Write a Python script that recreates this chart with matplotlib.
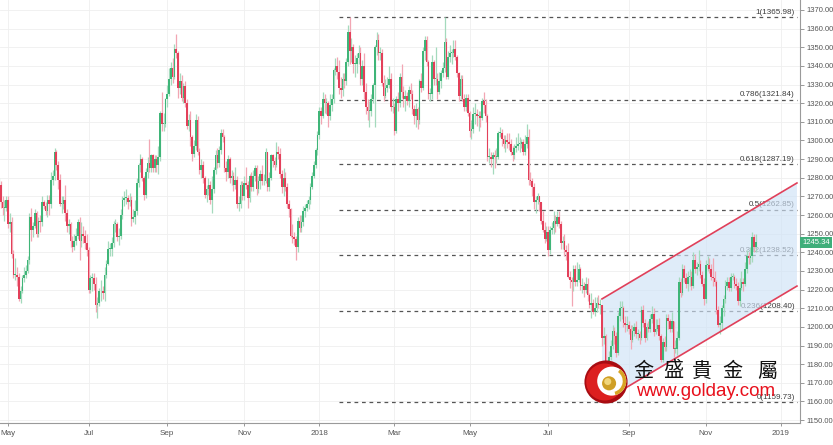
import numpy as np
import pandas as pd
import matplotlib
matplotlib.use("Agg")
from matplotlib import pyplot as plt
from matplotlib.patches import Circle, Wedge, Polygon
from matplotlib.transforms import blended_transform_factory

plt.rcParams['font.family'] = ['Liberation Sans', 'DejaVu Sans']

# XAU/USD daily candles, 2017-04-24 .. 2018-12-11, one line per month
first_open = 1270
close = [
    1276, 1267, 1264, 1264, 1268,
    1255, 1256, 1239, 1228, 1228, 1227, 1215, 1219, 1226, 1228, 1230, 1236, 1259, 1252, 1254, 1261, 1250, 1257, 1256, 1267, 1265, 1262, 1268,
    1266, 1279, 1281, 1294, 1287, 1279, 1266, 1266, 1268, 1261, 1254, 1255, 1246, 1243, 1246, 1249, 1256, 1246, 1250, 1249, 1245, 1241,
    1220, 1226, 1226, 1223, 1212, 1213, 1219, 1219, 1218, 1228, 1234, 1242, 1242, 1245, 1255, 1255, 1248, 1249, 1260, 1268, 1269,
    1269, 1267, 1268, 1258, 1259, 1262, 1277, 1287, 1290, 1280, 1271, 1283, 1288, 1285, 1292, 1285, 1290, 1287, 1291, 1315, 1309, 1309, 1322,
    1325, 1333, 1339, 1334, 1349, 1347, 1328, 1332, 1323, 1329, 1320, 1308, 1311, 1302, 1293, 1297, 1311, 1294, 1284, 1287, 1280,
    1271, 1274, 1276, 1268, 1274, 1284, 1292, 1288, 1295, 1304, 1302, 1285, 1283, 1290, 1280, 1281, 1276, 1279, 1266, 1266, 1276, 1270,
    1277, 1276, 1269, 1281, 1275, 1281, 1285, 1274, 1278, 1282, 1278, 1278, 1294, 1275, 1280, 1292, 1289, 1287, 1294, 1293, 1282, 1275,
    1280, 1275, 1266, 1263, 1249, 1248, 1247, 1243, 1257, 1253, 1256, 1262, 1264, 1266, 1268, 1275, 1281, 1287, 1295, 1303,
    1316, 1313, 1322, 1320, 1320, 1313, 1319, 1322, 1338, 1340, 1337, 1328, 1327, 1333, 1332, 1342, 1358, 1348, 1350, 1341, 1341, 1344,
    1347, 1333, 1340, 1326, 1318, 1316, 1316, 1322, 1330, 1350, 1354, 1347, 1347, 1331, 1324, 1328, 1330, 1333, 1318, 1318,
    1305, 1322, 1320, 1334, 1326, 1322, 1324, 1321, 1327, 1325, 1317, 1313, 1317, 1311, 1332, 1328, 1348, 1354, 1342, 1325, 1325,
    1342, 1333, 1333, 1326, 1332, 1336, 1339, 1353, 1334, 1345, 1347, 1347, 1349, 1345, 1336, 1324, 1333, 1322, 1318, 1323, 1315,
    1305, 1306, 1314, 1314, 1313, 1313, 1312, 1321, 1319, 1313, 1291, 1291, 1290, 1292, 1291, 1291, 1304, 1304, 1301, 1298, 1300, 1299, 1298,
    1294, 1292, 1296, 1297, 1298, 1298, 1299, 1294, 1298, 1302, 1279, 1278, 1275, 1267, 1268, 1270, 1267, 1257, 1252, 1247, 1251,
    1241, 1252, 1253, 1257, 1255, 1259, 1255, 1245, 1246, 1241, 1240, 1227, 1225, 1224, 1231, 1224, 1225, 1231, 1222, 1222, 1220, 1223,
    1217, 1212, 1213, 1208, 1210, 1213, 1212, 1212, 1194, 1195, 1174, 1176, 1184, 1190, 1198, 1195, 1186, 1206, 1210, 1210, 1202, 1201, 1201,
    1199, 1193, 1198, 1200, 1196, 1196, 1194, 1209, 1202, 1194, 1200, 1199, 1204, 1207, 1197, 1199, 1201, 1195, 1182, 1192,
    1189, 1205, 1203, 1199, 1203, 1188, 1188, 1194, 1224, 1218, 1231, 1226, 1223, 1227, 1227, 1222, 1236, 1231, 1232, 1234, 1228, 1223, 1215,
    1233, 1233, 1231, 1227, 1226, 1224, 1209, 1201, 1202, 1210, 1215, 1222, 1224, 1221, 1227, 1227, 1223, 1222, 1214, 1221, 1224, 1223,
    1231, 1238, 1237, 1238, 1248, 1243, 1245.34,
]
high = [
    1280, 1278, 1270, 1268, 1270,
    1270, 1261, 1259, 1241, 1237, 1232, 1229, 1222, 1228, 1232, 1233, 1238, 1261, 1264, 1256, 1263, 1262, 1259, 1260, 1270, 1268, 1267, 1271,
    1271, 1283, 1284, 1296, 1295, 1289, 1282, 1270, 1270, 1276, 1263, 1258, 1256, 1249, 1250, 1253, 1258, 1259, 1256, 1254, 1252, 1250,
    1243, 1228, 1229, 1229, 1227, 1216, 1221, 1225, 1222, 1232, 1236, 1246, 1245, 1248, 1257, 1258, 1256, 1253, 1263, 1270, 1273,
    1274, 1271, 1272, 1270, 1263, 1268, 1280, 1288, 1293, 1291, 1281, 1285, 1291, 1301, 1293, 1293, 1292, 1292, 1297, 1316, 1326, 1315, 1323,
    1330, 1339, 1342, 1344, 1352, 1357, 1348, 1336, 1335, 1331, 1332, 1322, 1314, 1316, 1303, 1300, 1314, 1313, 1296, 1290, 1289,
    1281, 1276, 1280, 1278, 1281, 1286, 1295, 1296, 1297, 1306, 1306, 1303, 1289, 1292, 1291, 1284, 1283, 1286, 1281, 1270, 1278, 1278,
    1281, 1286, 1278, 1282, 1283, 1284, 1287, 1287, 1281, 1284, 1287, 1282, 1296, 1294, 1283, 1293, 1293, 1291, 1299, 1297, 1296, 1284,
    1285, 1283, 1277, 1268, 1264, 1255, 1251, 1249, 1259, 1260, 1260, 1265, 1266, 1268, 1270, 1277, 1283, 1289, 1296, 1305,
    1318, 1318, 1326, 1325, 1323, 1321, 1325, 1325, 1339, 1344, 1345, 1343, 1334, 1336, 1336, 1344, 1362, 1366, 1355, 1352, 1346, 1347,
    1351, 1350, 1343, 1347, 1331, 1322, 1321, 1325, 1331, 1351, 1358, 1357, 1350, 1349, 1335, 1333, 1334, 1340, 1336, 1323,
    1320, 1324, 1326, 1336, 1341, 1329, 1327, 1326, 1329, 1331, 1327, 1319, 1320, 1318, 1333, 1336, 1350, 1356, 1356, 1343, 1328,
    1346, 1343, 1350, 1336, 1337, 1338, 1342, 1366, 1355, 1348, 1351, 1349, 1354, 1354, 1346, 1337, 1335, 1335, 1325, 1325, 1325,
    1316, 1311, 1318, 1320, 1317, 1316, 1316, 1323, 1326, 1322, 1314, 1296, 1294, 1294, 1295, 1296, 1305, 1307, 1306, 1303, 1303, 1304, 1304,
    1301, 1297, 1298, 1302, 1304, 1302, 1301, 1301, 1303, 1309, 1306, 1283, 1280, 1277, 1270, 1272, 1270, 1267, 1262, 1256, 1254,
    1254, 1254, 1256, 1262, 1260, 1262, 1262, 1257, 1249, 1250, 1244, 1245, 1230, 1227, 1233, 1233, 1235, 1234, 1232, 1226, 1224, 1227,
    1226, 1218, 1218, 1215, 1216, 1216, 1217, 1215, 1212, 1200, 1196, 1180, 1187, 1193, 1201, 1200, 1197, 1208, 1214, 1214, 1211, 1206, 1206,
    1203, 1201, 1201, 1202, 1203, 1199, 1198, 1211, 1212, 1204, 1202, 1203, 1207, 1211, 1210, 1204, 1204, 1205, 1196, 1194,
    1195, 1207, 1207, 1204, 1208, 1203, 1193, 1198, 1227, 1226, 1234, 1233, 1229, 1230, 1231, 1230, 1240, 1239, 1235, 1241, 1236, 1230, 1226,
    1236, 1238, 1237, 1234, 1237, 1230, 1225, 1211, 1206, 1212, 1217, 1225, 1227, 1227, 1229, 1229, 1228, 1226, 1224, 1226, 1230, 1226,
    1235, 1241, 1240, 1243, 1251, 1250, 1250,
]
low = [
    1266, 1264, 1260, 1257, 1262,
    1253, 1251, 1237, 1226, 1225, 1222, 1214, 1213, 1218, 1224, 1226, 1229, 1234, 1246, 1248, 1253, 1248, 1248, 1251, 1254, 1263, 1260, 1259,
    1260, 1264, 1276, 1279, 1284, 1274, 1265, 1261, 1263, 1257, 1251, 1250, 1243, 1240, 1241, 1244, 1247, 1236, 1243, 1245, 1242, 1238,
    1218, 1218, 1219, 1220, 1208, 1205, 1211, 1214, 1215, 1214, 1226, 1233, 1238, 1238, 1243, 1251, 1246, 1244, 1247, 1258, 1265,
    1266, 1263, 1265, 1254, 1256, 1255, 1260, 1275, 1283, 1278, 1268, 1269, 1280, 1283, 1283, 1283, 1283, 1283, 1282, 1289, 1305, 1305, 1307,
    1318, 1324, 1330, 1331, 1333, 1344, 1323, 1325, 1321, 1320, 1318, 1306, 1305, 1297, 1289, 1291, 1295, 1292, 1282, 1280, 1277,
    1269, 1267, 1271, 1266, 1261, 1272, 1282, 1285, 1286, 1293, 1299, 1283, 1278, 1280, 1277, 1276, 1273, 1274, 1264, 1262, 1264, 1268,
    1268, 1274, 1264, 1267, 1273, 1273, 1278, 1271, 1272, 1274, 1276, 1276, 1277, 1273, 1273, 1279, 1286, 1284, 1286, 1290, 1280, 1272,
    1270, 1273, 1264, 1259, 1248, 1245, 1244, 1236, 1240, 1251, 1251, 1254, 1259, 1262, 1263, 1266, 1274, 1280, 1285, 1292,
    1301, 1309, 1312, 1315, 1314, 1307, 1311, 1316, 1320, 1335, 1333, 1325, 1323, 1324, 1328, 1330, 1340, 1341, 1342, 1336, 1334, 1336,
    1341, 1330, 1330, 1322, 1314, 1311, 1307, 1313, 1320, 1307, 1346, 1343, 1343, 1329, 1321, 1323, 1326, 1328, 1316, 1315,
    1303, 1304, 1316, 1318, 1323, 1318, 1316, 1319, 1318, 1322, 1314, 1309, 1307, 1306, 1309, 1326, 1327, 1343, 1340, 1322, 1321,
    1322, 1330, 1330, 1322, 1325, 1328, 1334, 1337, 1333, 1333, 1342, 1341, 1345, 1343, 1334, 1321, 1322, 1321, 1316, 1316, 1313,
    1302, 1301, 1304, 1309, 1308, 1305, 1307, 1311, 1315, 1310, 1289, 1288, 1286, 1282, 1285, 1288, 1290, 1302, 1297, 1296, 1294, 1296, 1295,
    1292, 1289, 1290, 1294, 1295, 1294, 1296, 1292, 1292, 1296, 1276, 1276, 1270, 1263, 1261, 1266, 1262, 1255, 1251, 1245, 1246,
    1238, 1239, 1250, 1250, 1251, 1254, 1253, 1242, 1242, 1238, 1236, 1226, 1221, 1211, 1219, 1222, 1222, 1224, 1220, 1218, 1216, 1218,
    1214, 1210, 1205, 1207, 1206, 1208, 1210, 1207, 1190, 1191, 1167, 1160, 1172, 1182, 1188, 1191, 1184, 1185, 1203, 1204, 1200, 1197, 1198,
    1196, 1188, 1192, 1195, 1194, 1193, 1191, 1193, 1200, 1192, 1193, 1197, 1197, 1202, 1195, 1196, 1198, 1193, 1181, 1181,
    1187, 1187, 1199, 1197, 1197, 1184, 1186, 1185, 1193, 1216, 1217, 1224, 1221, 1219, 1222, 1220, 1221, 1229, 1228, 1230, 1226, 1222, 1212,
    1213, 1230, 1229, 1225, 1222, 1222, 1207, 1200, 1196, 1199, 1206, 1213, 1220, 1219, 1219, 1225, 1221, 1220, 1212, 1211, 1220, 1219,
    1222, 1229, 1234, 1234, 1235, 1240, 1240,
]

# Fibonacci retracement between the Jan-2018 high and the Aug-2018 low
fib_ratios = ["1", "0.786", "0.618", "0.5", "0.382", "0.236", "0"]
fib_prices = [1365.98, 1321.84, 1287.19, 1262.85, 1238.52, 1208.40, 1159.73]
fib_start = "2018-01-17"

# rising channel
channel_dates = ["2018-08-13", "2019-01-15"]
channel_upper = [1215.0, 1277.2]
channel_lower = [1159.7, 1221.9]

month_ticks = ["2017-05-01", "2017-07-01", "2017-09-01", "2017-11-01", "2018-01-01", "2018-03-01",
               "2018-05-01", "2018-07-01", "2018-09-01", "2018-11-01", "2019-01-01"]
month_labels = ["May", "Jul", "Sep", "Nov", "2018", "Mar", "May", "Jul", "Sep", "Nov", "2019"]

last_price = 1245.34

# trading calendar (bars are placed by trading-day index, no weekend gaps)
holidays = pd.to_datetime(["2017-12-25", "2018-01-01", "2018-03-30", "2018-12-25", "2019-01-01"])
calendar = pd.bdate_range("2017-04-24", "2019-02-28")
calendar = calendar[~calendar.isin(holidays)]


def pos(day):
    return calendar.searchsorted(pd.Timestamp(day))


assert len(close) == len(high) == len(low)

up_col, dn_col = "#3fb578", "#e3405a"
up_wick, dn_wick = "#a4dabd", "#f2a6b3"

fig = plt.figure(figsize=(8.33, 4.45), dpi=100)
ax = fig.add_axes([0, 22 / 445, 800 / 833, 423 / 445])

x = np.arange(len(close))
c = np.array(close, dtype=float)
o = np.array([first_open] + close[:-1], dtype=float)
h = np.array(high, dtype=float)
lo = np.array(low, dtype=float)
up = c >= o

ax.vlines(x[up], lo[up], h[up], color=up_wick, lw=0.9, zorder=3)
ax.vlines(x[~up], lo[~up], h[~up], color=dn_wick, lw=0.9, zorder=3)
ax.bar(x, np.maximum(np.abs(c - o), 0.5), bottom=np.minimum(o, c), width=0.9,
       color=np.where(up, up_col, dn_col), lw=0, zorder=4)

xmin, xmax = 0.53, 447.7
ax.set_xlim(xmin, xmax)
ax.set_ylim(1148.44, 1375.36)

# fib levels
for r, p in zip(fib_ratios, fib_prices):
    ax.hlines(p, pos(fib_start), xmax - 1.5, colors="#555555", linestyles=(0, (3, 3)), lw=0.9, zorder=1.5)
    ax.text(xmax - 2.8, p + 0.7, f"{r}({p:.2f})", ha="right", va="bottom", fontsize=5.8,
            color="#3c3c3c", zorder=1.5)

# channel
cx = [pos(d) for d in channel_dates]
ax.add_patch(Polygon([(cx[0], channel_lower[0]), (cx[1], channel_lower[1]),
                      (cx[1], channel_upper[1]), (cx[0], channel_upper[0])],
                     closed=True, fc="#cfe2f6", ec="none", alpha=0.65, zorder=2))
ax.plot(cx, channel_upper, color="#e0405a", lw=1.2, zorder=5)
ax.plot(cx, channel_lower, color="#e0405a", lw=1.2, zorder=5)

# axes styling
ax.set_xticks([pos(m) for m in month_ticks])
ax.set_xticklabels(month_labels)
ax.set_yticks(np.arange(1150, 1371, 10))
ax.yaxis.set_major_formatter(matplotlib.ticker.FormatStrFormatter("%.2f"))
ax.yaxis.tick_right()
ax.tick_params(axis="y", labelsize=5.5, colors="#888888", labelcolor="#555555", length=3, width=0.6, pad=2)
ax.tick_params(axis="x", labelsize=5.8, colors="#888888", labelcolor="#555555", length=2, width=0.6, pad=3)
ax.grid(True, color="#efefef", lw=0.6, zorder=0)
ax.set_axisbelow(True)
for s in ["top", "left"]:
    ax.spines[s].set_visible(False)
for s in ["right", "bottom"]:
    ax.spines[s].set_color("#9a9a9a")
    ax.spines[s].set_linewidth(0.8)

# last price tag
tr = blended_transform_factory(ax.transAxes, ax.transData)
ax.text(1.003, last_price, f"{last_price:.2f}", transform=tr, ha="left", va="center", fontsize=5.5,
        color="white", clip_on=False, zorder=6,
        bbox=dict(boxstyle="square,pad=0.3", fc="#3fae7a", ec="none"))

# watermark
for ch, cxp in zip("金盛貴金屬", [643, 673, 702, 732, 767]):
    fig.text(cxp / 833, 1 - 371 / 445, ch, ha="center", va="center", fontsize=14.5,
             family=["Noto Sans CJK TC", "DejaVu Sans"], color="#111111", zorder=10)
fig.text(706 / 833, 1 - 392 / 445, "www.golday.com", ha="center", va="center", fontsize=13.5,
         color="#e8101c", zorder=10)

lg = fig.add_axes([584 / 833, 1 - 404 / 445, 44 / 833, 44 / 445])
lg.set_xlim(0, 1)
lg.set_ylim(0, 1)
lg.axis("off")
lg.add_patch(Circle((0.5, 0.5), 0.49, fc="#a80c12", ec="none"))
lg.add_patch(Circle((0.47, 0.5), 0.42, fc="#dc1f1f", ec="none"))
lg.add_patch(Circle((0.63, 0.52), 0.33, fc="white", ec="none"))
lg.add_patch(Wedge((0.63, 0.52), 0.33, -75, 55, width=0.08, fc="#d8a424", ec="none"))
lg.add_patch(Circle((0.57, 0.47), 0.16, fc="#cf9f25", ec="none"))
lg.add_patch(Circle((0.54, 0.51), 0.08, fc="#f1d67a", ec="none"))

fig.savefig("out.png", dpi=100)
